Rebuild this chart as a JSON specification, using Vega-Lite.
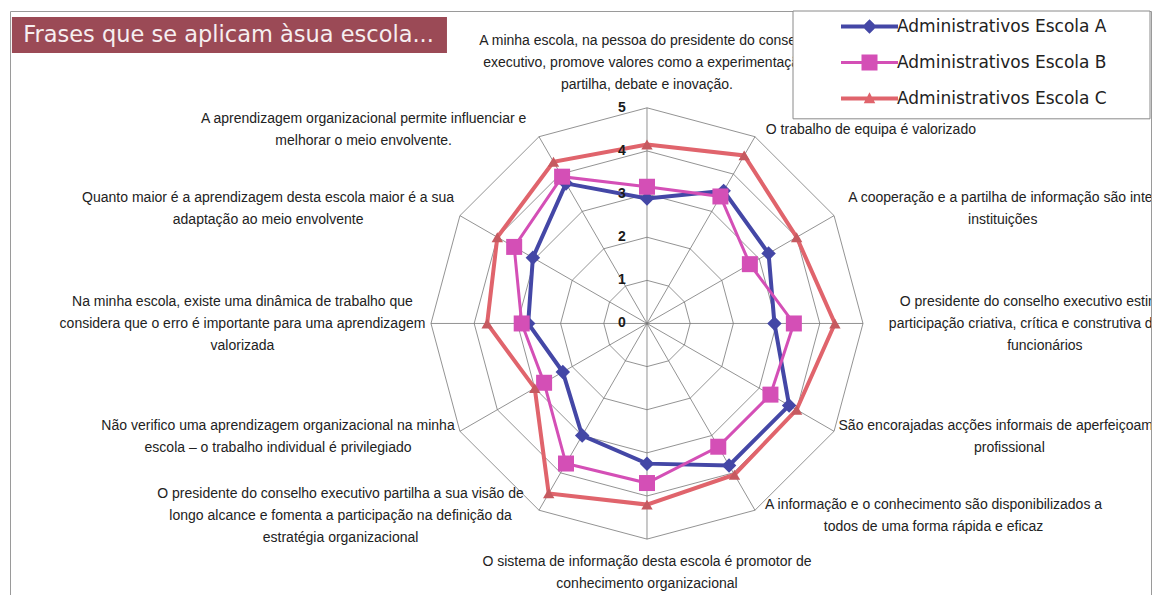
{
  "$schema": "https://vega.github.io/schema/vega-lite/v6.json",
  "autosize": {"type": "fit", "contains": "padding"},
  "width": 1164,
  "height": 595,
  "padding": {"left": 10, "top": 10, "right": 13, "bottom": 0},
  "background": "white",
  "config": {"view": {"stroke": "#9a9a9a", "strokeWidth": 1}, "font": "Liberation Sans"},
  "datasets": {
    "series": [
      {"s": "Administrativos Escola A", "k": 0, "v": 2.9},
      {"s": "Administrativos Escola A", "k": 1, "v": 3.55},
      {"s": "Administrativos Escola A", "k": 2, "v": 3.25},
      {"s": "Administrativos Escola A", "k": 3, "v": 2.95},
      {"s": "Administrativos Escola A", "k": 4, "v": 3.8},
      {"s": "Administrativos Escola A", "k": 5, "v": 3.8},
      {"s": "Administrativos Escola A", "k": 6, "v": 3.25},
      {"s": "Administrativos Escola A", "k": 7, "v": 3.0},
      {"s": "Administrativos Escola A", "k": 8, "v": 2.25},
      {"s": "Administrativos Escola A", "k": 9, "v": 2.75},
      {"s": "Administrativos Escola A", "k": 10, "v": 3.05},
      {"s": "Administrativos Escola A", "k": 11, "v": 3.75},
      {"s": "Administrativos Escola B", "k": 0, "v": 3.17},
      {"s": "Administrativos Escola B", "k": 1, "v": 3.4},
      {"s": "Administrativos Escola B", "k": 2, "v": 2.75},
      {"s": "Administrativos Escola B", "k": 3, "v": 3.4},
      {"s": "Administrativos Escola B", "k": 4, "v": 3.3},
      {"s": "Administrativos Escola B", "k": 5, "v": 3.3},
      {"s": "Administrativos Escola B", "k": 6, "v": 3.7},
      {"s": "Administrativos Escola B", "k": 7, "v": 3.75},
      {"s": "Administrativos Escola B", "k": 8, "v": 2.75},
      {"s": "Administrativos Escola B", "k": 9, "v": 2.9},
      {"s": "Administrativos Escola B", "k": 10, "v": 3.55},
      {"s": "Administrativos Escola B", "k": 11, "v": 3.93},
      {"s": "Administrativos Escola C", "k": 0, "v": 4.15},
      {"s": "Administrativos Escola C", "k": 1, "v": 4.5},
      {"s": "Administrativos Escola C", "k": 2, "v": 4.0},
      {"s": "Administrativos Escola C", "k": 3, "v": 4.35},
      {"s": "Administrativos Escola C", "k": 4, "v": 4.0},
      {"s": "Administrativos Escola C", "k": 5, "v": 4.05},
      {"s": "Administrativos Escola C", "k": 6, "v": 4.2},
      {"s": "Administrativos Escola C", "k": 7, "v": 4.55},
      {"s": "Administrativos Escola C", "k": 8, "v": 3.0},
      {"s": "Administrativos Escola C", "k": 9, "v": 3.7},
      {"s": "Administrativos Escola C", "k": 10, "v": 4.0},
      {"s": "Administrativos Escola C", "k": 11, "v": 4.33}
    ],
    "eixos": [
      {"k": 0, "label": "A minha escola, na pessoa do presidente do conselho\nexecutivo, promove valores como a experimentação,\npartilha, debate e inovação."},
      {"k": 1, "label": "O trabalho de equipa é valorizado"},
      {"k": 2, "label": "A cooperação e a partilha de informação são inter\ninstituições"},
      {"k": 3, "label": "O presidente do conselho executivo estimula a\nparticipação criativa, crítica e construtiva dos seus\nfuncionários"},
      {"k": 4, "label": "São encorajadas acções informais de aperfeiçoamento\nprofissional"},
      {"k": 5, "label": "A informação e o conhecimento são disponibilizados a\ntodos de uma forma rápida e eficaz"},
      {"k": 6, "label": "O sistema de informação desta escola é promotor de\nconhecimento organizacional"},
      {"k": 7, "label": "O presidente do conselho executivo partilha a sua visão de\nlongo alcance e fomenta a participação na definição da\nestratégia organizacional"},
      {"k": 8, "label": "Não verifico uma aprendizagem organizacional na minha\nescola – o trabalho individual é privilegiado"},
      {"k": 9, "label": "Na minha escola, existe uma dinâmica de trabalho que\nconsidera que o erro é importante para uma aprendizagem\nvalorizada"},
      {"k": 10, "label": "Quanto maior é a aprendizagem desta escola maior é a sua\nadaptação ao meio envolvente"},
      {"k": 11, "label": "A aprendizagem organizacional permite influenciar e\nmelhorar o meio envolvente."}
    ],
    "aneis": [
      {"r": 1, "k": [0, 1, 2, 3, 4, 5, 6, 7, 8, 9, 10, 11]},
      {"r": 2, "k": [0, 1, 2, 3, 4, 5, 6, 7, 8, 9, 10, 11]},
      {"r": 3, "k": [0, 1, 2, 3, 4, 5, 6, 7, 8, 9, 10, 11]},
      {"r": 4, "k": [0, 1, 2, 3, 4, 5, 6, 7, 8, 9, 10, 11]},
      {"r": 5, "k": [0, 1, 2, 3, 4, 5, 6, 7, 8, 9, 10, 11]}
    ],
    "escala": [{"n": 0}, {"n": 1}, {"n": 2}, {"n": 3}, {"n": 4}, {"n": 5}]
  },
  "layer": [
    {
      "data": {"name": "aneis"},
      "transform": [
        {"flatten": ["k"]},
        {"calculate": "datum.k*PI/6", "as": "t"},
        {"calculate": "datum.r*sin(datum.t)", "as": "x"},
        {"calculate": "datum.r*cos(datum.t)", "as": "y"}
      ],
      "mark": {"type": "line", "interpolate": "linear-closed", "stroke": "#777777", "strokeWidth": 0.8},
      "encoding": {
        "x": {"field": "x", "type": "quantitative", "scale": {"domain": [-14.745, 11.667], "nice": false, "zero": false}, "axis": null},
        "y": {"field": "y", "type": "quantitative", "scale": {"domain": [-6.296, 7.245], "nice": false, "zero": false}, "axis": null},
        "detail": {"field": "r", "type": "nominal"},
        "order": {"field": "k", "type": "quantitative"}
      }
    },
    {
      "data": {"name": "eixos"},
      "transform": [
        {"calculate": "datum.k*PI/6", "as": "t"},
        {"calculate": "5*sin(datum.t)", "as": "x"},
        {"calculate": "5*cos(datum.t)", "as": "y"},
        {"calculate": "0", "as": "o"}
      ],
      "mark": {"type": "rule", "stroke": "#777777", "strokeWidth": 0.8},
      "encoding": {
        "x": {"field": "o", "type": "quantitative", "scale": {"domain": [-14.745, 11.667], "nice": false, "zero": false}, "axis": null},
        "y": {"field": "o", "type": "quantitative", "scale": {"domain": [-6.296, 7.245], "nice": false, "zero": false}, "axis": null},
        "x2": {"field": "x"},
        "y2": {"field": "y"}
      }
    },
    {
      "data": {"name": "series"},
      "transform": [
        {"filter": "datum.s === 'Administrativos Escola A'"},
        {"calculate": "datum.k*PI/6", "as": "t"},
        {"calculate": "datum.v*sin(datum.t)", "as": "x"},
        {"calculate": "datum.v*cos(datum.t)", "as": "y"}
      ],
      "mark": {"type": "line", "interpolate": "linear-closed", "strokeWidth": 4},
      "encoding": {
        "x": {"field": "x", "type": "quantitative", "scale": {"domain": [-14.745, 11.667], "nice": false, "zero": false}, "axis": null},
        "y": {"field": "y", "type": "quantitative", "scale": {"domain": [-6.296, 7.245], "nice": false, "zero": false}, "axis": null},
        "order": {"field": "k", "type": "quantitative"},
        "color": {
          "field": "s", "type": "nominal",
          "scale": {"domain": ["Administrativos Escola A", "Administrativos Escola B", "Administrativos Escola C"], "range": ["#4447a6", "#d44fb6", "#e0646c"]},
          "legend": {
            "title": null, "orient": "none", "legendX": 851, "legendY": 7, "padding": 0,
            "rowPadding": 18, "labelOffset": 19, "symbolSize": 100, "labelFontSize": 17,
            "labelFont": "DejaVu Sans", "labelColor": "#222222", "labelLimit": 400,
            "encode": {
              "symbols": {
                "update": {
                  "shape": {"signal": "datum.value === 'Administrativos Escola A' ? 'M-5.7,-0.4H5.7V0.4H-5.7Z M0,-1.45L1.45,0L0,1.45L-1.45,0Z' : datum.value === 'Administrativos Escola B' ? 'M-5.7,-0.3H5.7V0.3H-5.7Z M-1.6,-1.6H1.6V1.6H-1.6Z' : 'M-5.7,-0.4H5.7V0.4H-5.7Z M0,-1.25L1.15,0.95H-1.15Z'"},
                  "fill": {"signal": "scale('color', datum.value)"},
                  "stroke": {"value": "transparent"},
                  "strokeWidth": {"value": 0},
                  "opacity": {"value": 1},
                  "fillOpacity": {"value": 1}
                }
              }
            }
          }
        }
      }
    },
    {
      "data": {"name": "series"},
      "transform": [
        {"filter": "datum.s === 'Administrativos Escola A'"},
        {"calculate": "datum.k*PI/6", "as": "t"},
        {"calculate": "datum.v*sin(datum.t)", "as": "x"},
        {"calculate": "datum.v*cos(datum.t)", "as": "y"}
      ],
      "mark": {"type": "point", "shape": "diamond", "filled": true, "size": 210, "opacity": 1},
      "encoding": {
        "x": {"field": "x", "type": "quantitative", "scale": {"domain": [-14.745, 11.667], "nice": false, "zero": false}, "axis": null},
        "y": {"field": "y", "type": "quantitative", "scale": {"domain": [-6.296, 7.245], "nice": false, "zero": false}, "axis": null},
        "color": {"field": "s", "type": "nominal"}
      }
    },
    {
      "data": {"name": "series"},
      "transform": [
        {"filter": "datum.s === 'Administrativos Escola B'"},
        {"calculate": "datum.k*PI/6", "as": "t"},
        {"calculate": "datum.v*sin(datum.t)", "as": "x"},
        {"calculate": "datum.v*cos(datum.t)", "as": "y"}
      ],
      "mark": {"type": "line", "interpolate": "linear-closed", "strokeWidth": 3},
      "encoding": {
        "x": {"field": "x", "type": "quantitative", "scale": {"domain": [-14.745, 11.667], "nice": false, "zero": false}, "axis": null},
        "y": {"field": "y", "type": "quantitative", "scale": {"domain": [-6.296, 7.245], "nice": false, "zero": false}, "axis": null},
        "order": {"field": "k", "type": "quantitative"},
        "color": {"field": "s", "type": "nominal"}
      }
    },
    {
      "data": {"name": "series"},
      "transform": [
        {"filter": "datum.s === 'Administrativos Escola B'"},
        {"calculate": "datum.k*PI/6", "as": "t"},
        {"calculate": "datum.v*sin(datum.t)", "as": "x"},
        {"calculate": "datum.v*cos(datum.t)", "as": "y"}
      ],
      "mark": {"type": "point", "shape": "square", "filled": true, "size": 256, "opacity": 1},
      "encoding": {
        "x": {"field": "x", "type": "quantitative", "scale": {"domain": [-14.745, 11.667], "nice": false, "zero": false}, "axis": null},
        "y": {"field": "y", "type": "quantitative", "scale": {"domain": [-6.296, 7.245], "nice": false, "zero": false}, "axis": null},
        "color": {"field": "s", "type": "nominal"}
      }
    },
    {
      "data": {"name": "series"},
      "transform": [
        {"filter": "datum.s === 'Administrativos Escola C'"},
        {"calculate": "datum.k*PI/6", "as": "t"},
        {"calculate": "datum.v*sin(datum.t)", "as": "x"},
        {"calculate": "datum.v*cos(datum.t)", "as": "y"}
      ],
      "mark": {"type": "line", "interpolate": "linear-closed", "strokeWidth": 4},
      "encoding": {
        "x": {"field": "x", "type": "quantitative", "scale": {"domain": [-14.745, 11.667], "nice": false, "zero": false}, "axis": null},
        "y": {"field": "y", "type": "quantitative", "scale": {"domain": [-6.296, 7.245], "nice": false, "zero": false}, "axis": null},
        "order": {"field": "k", "type": "quantitative"},
        "color": {"field": "s", "type": "nominal"}
      }
    },
    {
      "data": {"name": "series"},
      "transform": [
        {"filter": "datum.s === 'Administrativos Escola C'"},
        {"calculate": "datum.k*PI/6", "as": "t"},
        {"calculate": "datum.v*sin(datum.t)", "as": "x"},
        {"calculate": "datum.v*cos(datum.t)", "as": "y"}
      ],
      "mark": {"type": "point", "shape": "triangle-up", "filled": true, "size": 130, "opacity": 1, "color": "#c65a60"},
      "encoding": {
        "x": {"field": "x", "type": "quantitative", "scale": {"domain": [-14.745, 11.667], "nice": false, "zero": false}, "axis": null},
        "y": {"field": "y", "type": "quantitative", "scale": {"domain": [-6.296, 7.245], "nice": false, "zero": false}, "axis": null}
      }
    },
    {
      "data": {"name": "escala"},
      "transform": [{"calculate": "0", "as": "o"}],
      "mark": {"type": "text", "fontSize": 14, "fontWeight": "bold", "color": "#1a1a1a", "dx": -25, "align": "center", "baseline": "middle"},
      "encoding": {
        "x": {"field": "o", "type": "quantitative", "scale": {"domain": [-14.745, 11.667], "nice": false, "zero": false}, "axis": null},
        "y": {"field": "n", "type": "quantitative", "scale": {"domain": [-6.296, 7.245], "nice": false, "zero": false}, "axis": null},
        "text": {"field": "n", "type": "nominal"}
      }
    },
    {
      "data": {"name": "eixos"},
      "transform": [
        {"calculate": "datum.k*PI/6", "as": "t"},
        {"calculate": "split(datum.label, '\\n')", "as": "L"},
        {"calculate": "length(datum.L)", "as": "n"},
        {"calculate": "max(length(datum.L[0]), length(datum.L[1] || ''), length(datum.L[2] || ''))", "as": "mx"},
        {"calculate": "abs(sin(datum.t)) < 0.01 ? 0 : (sin(datum.t) > 0 ? 1 : -1)", "as": "sg"},
        {"calculate": "5*sin(datum.t) + datum.sg*(7 + datum.mx*3.3)/43.2", "as": "x"},
        {"calculate": "5*cos(datum.t) + ((datum.sg == 0 ? (cos(datum.t) > 0 ? 1 : -1)*(12 + datum.n*11) : (cos(datum.t) > 0.01 ? 7 : (cos(datum.t) < -0.01 ? -6 : 0))) + (datum.n - 1)*11)/43.2", "as": "y"}
      ],
      "mark": {"type": "text", "fontSize": 14, "lineBreak": "\n", "lineHeight": 22, "align": "center", "baseline": "middle", "color": "#222222", "clip": true},
      "encoding": {
        "x": {"field": "x", "type": "quantitative", "scale": {"domain": [-14.745, 11.667], "nice": false, "zero": false}, "axis": null},
        "y": {"field": "y", "type": "quantitative", "scale": {"domain": [-6.296, 7.245], "nice": false, "zero": false}, "axis": null},
        "text": {"field": "label", "type": "nominal"}
      }
    },
    {
      "data": {"values": [{"x1": 3.38, "x2": 11.644, "y1": 7.245, "y2": 4.745}]},
      "mark": {"type": "rect", "fill": "white", "stroke": "#8a8a8a", "strokeWidth": 1},
      "encoding": {
        "x": {"field": "x1", "type": "quantitative", "scale": {"domain": [-14.745, 11.667], "nice": false, "zero": false}, "axis": null},
        "x2": {"field": "x2"},
        "y": {"field": "y1", "type": "quantitative", "scale": {"domain": [-6.296, 7.245], "nice": false, "zero": false}, "axis": null},
        "y2": {"field": "y2"}
      }
    },
    {
      "data": {"values": [{"t": "Frases que se aplicam àsua escola...", "x1": -14.7, "x2": -4.63, "y1": 7.106, "y2": 6.273, "tx": -14.44, "ty": 6.69}]},
      "layer": [
        {
          "mark": {"type": "rect", "fill": "#9b4a56"},
          "encoding": {
            "x": {"field": "x1", "type": "quantitative", "scale": {"domain": [-14.745, 11.667], "nice": false, "zero": false}, "axis": null},
            "x2": {"field": "x2"},
            "y": {"field": "y1", "type": "quantitative", "scale": {"domain": [-6.296, 7.245], "nice": false, "zero": false}, "axis": null},
            "y2": {"field": "y2"}
          }
        },
        {
          "mark": {"type": "text", "fontSize": 22.5, "font": "DejaVu Sans", "color": "#f6eef0", "align": "left", "baseline": "middle"},
          "encoding": {
            "x": {"field": "tx", "type": "quantitative", "scale": {"domain": [-14.745, 11.667], "nice": false, "zero": false}, "axis": null},
            "y": {"field": "ty", "type": "quantitative", "scale": {"domain": [-6.296, 7.245], "nice": false, "zero": false}, "axis": null},
            "text": {"field": "t", "type": "nominal"}
          }
        }
      ]
    }
  ]
}
